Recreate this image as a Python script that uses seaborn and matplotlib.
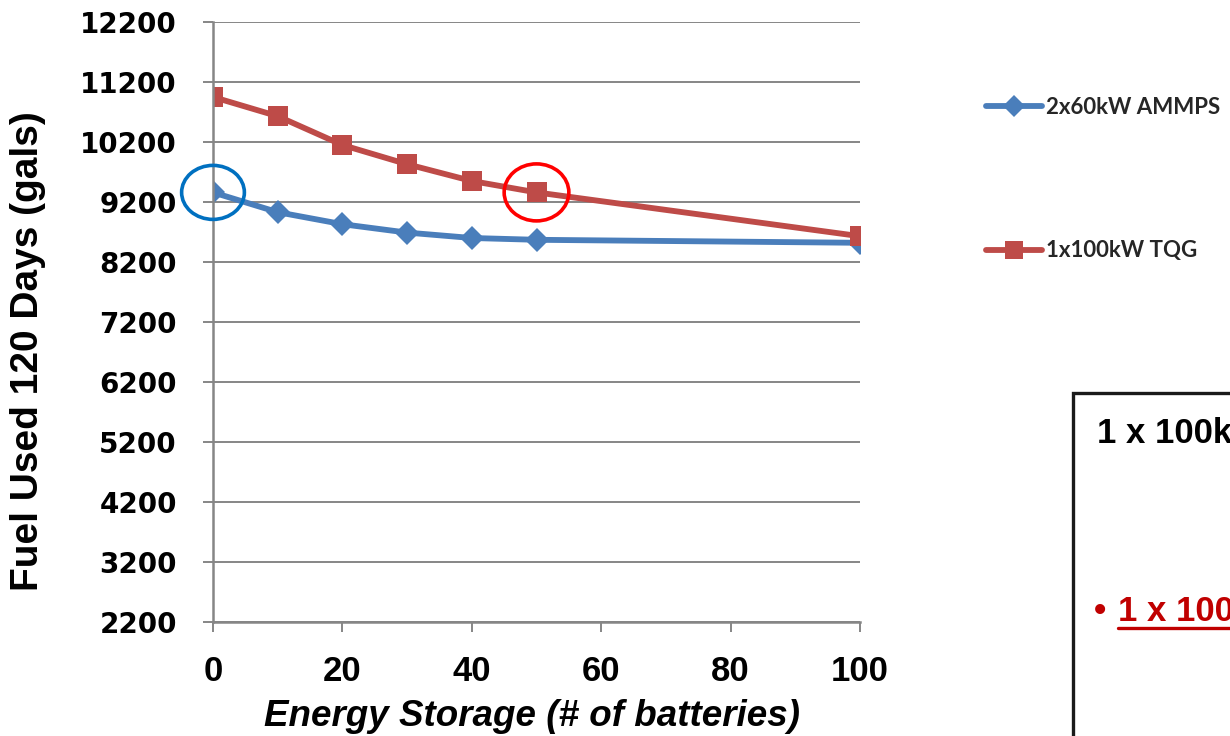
import matplotlib
matplotlib.use("Agg")
import matplotlib.pyplot as plt
import matplotlib.lines as mlines
from matplotlib.patches import Ellipse, Rectangle
import pandas as pd
import seaborn as sns

# Fuel use over a 120-day deployment versus number of batteries
batteries = [0, 10, 20, 30, 40, 50, 100]
ammps_fuel = [9360, 9030, 8830, 8690, 8600, 8570, 8520]
tqg_fuel = [10950, 10630, 10150, 9830, 9550, 9360, 8630]
series_names = ["2x60kW AMMPS", "1x100kW TQG"]
y_ticks = [2200, 3200, 4200, 5200, 6200, 7200, 8200, 9200, 10200, 11200, 12200]
x_ticks = [0, 20, 40, 60, 80, 100]
highlight_idx = {"2x60kW AMMPS": 0, "1x100kW TQG": 5}

df = pd.concat([
    pd.DataFrame({"batteries": batteries, "fuel": ammps_fuel, "system": series_names[0]}),
    pd.DataFrame({"batteries": batteries, "fuel": tqg_fuel, "system": series_names[1]}),
])

sns.set_theme(style="white")
plt.rcParams["font.family"] = ["Liberation Sans", "DejaVu Sans"]

colors = {"2x60kW AMMPS": "#4A7EBB", "1x100kW TQG": "#BE4B48"}
markers = {"2x60kW AMMPS": "D", "1x100kW TQG": "s"}
marker_sizes = {"2x60kW AMMPS": 12.5, "1x100kW TQG": 14}
grid_gray = "#868686"
line_w = 4.2

fig = plt.figure(figsize=(12.3, 7.36), dpi=100)
ax = fig.add_axes([213 / 1230, 114 / 736, 647 / 1230, 600 / 736])

sns.lineplot(data=df, x="batteries", y="fuel", hue="system", style="system",
             palette=colors, markers=markers, dashes=False, linewidth=line_w,
             markersize=12.5, markeredgewidth=0, legend=False, ax=ax)
ax.get_lines()[1].set_markersize(marker_sizes["1x100kW TQG"])

ax.set_xlim(0, 100)
ax.set_ylim(2200, 12200)
ax.set_xticks(x_ticks)
ax.set_yticks(y_ticks)
ax.yaxis.grid(True, color=grid_gray, linewidth=1.4)
ax.xaxis.grid(False)
ax.set_axisbelow(True)
for side in ("top", "right"):
    ax.spines[side].set_visible(False)
for side in ("left", "bottom"):
    ax.spines[side].set_color(grid_gray)
    ax.spines[side].set_linewidth(1.8)
ax.tick_params(axis="both", direction="out", length=7, width=1.4, color=grid_gray,
               left=True, bottom=True)
ax.tick_params(axis="y", pad=19)
ax.tick_params(axis="x", pad=17)
for lab in ax.get_yticklabels():
    lab.set_fontfamily("DejaVu Sans")
    lab.set_fontweight("bold")
    lab.set_fontsize(20)
    lab.set_color("black")
for lab in ax.get_xticklabels():
    lab.set_fontfamily(["Liberation Sans", "DejaVu Sans"])
    lab.set_fontweight("bold")
    lab.set_fontsize(25)
    lab.set_color("black")

ax.set_xlabel("Energy Storage (# of batteries)", fontsize=26.5, fontweight="bold",
              fontstyle="italic", color="black")
ax.xaxis.set_label_coords(0.493, -0.128)
ax.set_ylabel("Fuel Used 120 Days (gals)", fontsize=28, fontweight="bold", color="black")
ax.yaxis.set_label_coords(-0.258, 0.452)

# Highlight rings around the operating points of interest
ring_specs = [("2x60kW AMMPS", ammps_fuel, "#0070C0", 9.7, 900),
              ("1x100kW TQG", tqg_fuel, "#FF0000", 10.0, 950)]
for name, values, ring_color, w, h in ring_specs:
    i = highlight_idx[name]
    ax.add_patch(Ellipse((batteries[i], values[i]), w, h, fill=False,
                         edgecolor=ring_color, linewidth=2.6, clip_on=False, zorder=5))

# Legend, one entry per generator set, widely spaced
handles = [mlines.Line2D([], [], color=colors[n], marker=markers[n], linewidth=line_w,
                         markersize=marker_sizes[n] - 1, markeredgewidth=0,
                         solid_capstyle="round") for n in series_names]
leg = fig.legend(handles, series_names, loc="upper left",
                 bbox_to_anchor=(975 / 1230, 1 - 86 / 736), frameon=False,
                 prop={"family": ["Lato", "DejaVu Sans"], "weight": "bold", "size": 16},
                 handlelength=2.5, handletextpad=0.2, labelspacing=5.5, borderpad=0)

# Note box on the right
fig.patches.append(Rectangle((1073 / 1230, -0.2), 0.3, 0.2 + (736 - 393) / 736,
                             transform=fig.transFigure, fill=False,
                             edgecolor="#1a1a1a", linewidth=2.4))
fig.text(1097 / 1230, 1 - 433 / 736, "1 x 100kW TQG", fontsize=25, fontweight="bold",
         color="black", va="center", ha="left")
fig.text(1094 / 1230, 1 - 611 / 736, "•", fontsize=25, fontweight="bold",
         color="#C00000", va="center", ha="left")
fig.text(1118 / 1230, 1 - 611 / 736, "1 x 100kW TQG", fontsize=25, fontweight="bold",
         color="#C00000", va="center", ha="left")
fig.add_artist(mlines.Line2D([1118 / 1230, 1.0], [1 - 628 / 736, 1 - 628 / 736],
                             transform=fig.transFigure, color="#C00000", linewidth=2.4))

fig.savefig("out.png", dpi=100)
